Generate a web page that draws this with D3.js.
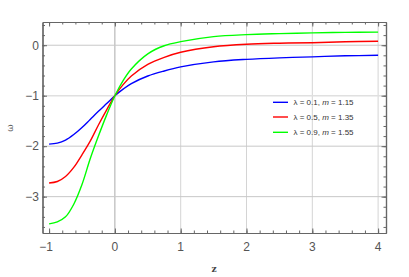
<!DOCTYPE html>
<html>
<head>
<meta charset="utf-8">
<script src="https://cdn.jsdelivr.net/npm/d3@7"></script>
<style>
  body { margin: 0; background: #fff; }
  svg { display: block; }
</style>
</head>
<body>
<svg id="chart" width="409" height="277"></svg>
<script>
// values
var zValues = [-1, -0.875, -0.75, -0.625, -0.5, -0.375, -0.25, -0.125, 0, 0.125, 0.25, 0.5, 0.75, 1, 1.5, 2, 2.5, 3, 3.5, 4];
var omegaBlue = [-1.96, -1.94, -1.88, -1.77, -1.63, -1.47, -1.31, -1.155, -1, -0.87, -0.76, -0.61, -0.51, -0.43, -0.33, -0.28, -0.25, -0.23, -0.21, -0.20];
var omegaRed = [-2.73, -2.70, -2.60, -2.42, -2.17, -1.90, -1.58, -1.28, -1, -0.78, -0.61, -0.38, -0.24, -0.14, -0.03, 0.02, 0.04, 0.05, 0.07, 0.08];
var omegaGreen = [-3.54, -3.50, -3.40, -3.15, -2.76, -2.25, -1.80, -1.38, -1, -0.70, -0.47, -0.17, -0.01, 0.07, 0.17, 0.21, 0.23, 0.245, 0.255, 0.26];
var seriesLambda = ["0.1", "0.5", "0.9"];
var seriesM = ["1.15", "1.35", "1.55"];
var seriesColors = ["#0000ff", "#ff0000", "#00ff00"];
var xTicks = [-1, 0, 1, 2, 3, 4];
var yTicks = [0, -1, -2, -3];

var svg = d3.select("#chart");
var plotLeft = 42.5, plotRight = 386, plotTop = 22, plotBottom = 233;

var x = d3.scaleLinear().domain([-1.1, 4.12]).range([plotLeft, plotRight]);
var y = d3.scaleLinear().domain([0.46, -3.72]).range([plotTop, plotBottom]);

var frameColor = "#666";
var labelColor = "#555";

// grid lines
var grid = svg.append("g");
grid.selectAll("line.gx")
    .data(xTicks.filter(function(d) { return d >= 0; }))
    .enter()
    .append("line")
    .attr("x1", function(d) { return x(d); })
    .attr("x2", function(d) { return x(d); })
    .attr("y1", plotTop)
    .attr("y2", plotBottom)
    .style("stroke", function(d) { return d === 0 ? "#aaa" : "#d4d4d4"; })
    .style("stroke-width", 1);
grid.selectAll("line.gy")
    .data(yTicks)
    .enter()
    .append("line")
    .attr("x1", plotLeft)
    .attr("x2", plotRight)
    .attr("y1", function(d) { return y(d); })
    .attr("y2", function(d) { return y(d); })
    .style("stroke", function(d) { return d === -1 ? "#e0e0e0" : "#c8c8c8"; })
    .style("stroke-width", function(d) { return d === -1 ? 1.6 : 1; });

// curves
var series = [omegaBlue, omegaRed, omegaGreen];
var line = d3.line()
    .x(function(d) { return x(d[0]); })
    .y(function(d) { return y(d[1]); })
    .curve(d3.curveCatmullRom.alpha(0.5));
svg.append("g").selectAll("path")
    .data(series)
    .enter()
    .append("path")
    .attr("d", function(s) { return line(zValues.map(function(z, i) { return [z, s[i]]; })); })
    .style("fill", "none")
    .style("stroke", function(s, i) { return seriesColors[i]; })
    .style("stroke-width", 1.4);

// frame with ticks on all sides, pointing inward
var xMinor = d3.range(-1, 4.01, 0.2).map(function(d) { return +d.toFixed(2); });
var yMinor = d3.range(-3.6, 0.41, 0.2).map(function(d) { return +d.toFixed(2); });

function drawAxis(gen, tx, ty) {
    var g = svg.append("g").attr("transform", "translate(" + tx + "," + ty + ")").call(gen);
    g.selectAll("path.domain").style("stroke", frameColor).style("stroke-width", 1.2);
    g.selectAll(".tick line").style("stroke", frameColor).style("stroke-width", 1);
    return g;
}

function ticks(axisFn, scale, vals, size) {
    return axisFn(scale).tickValues(vals).tickSize(size).tickSizeOuter(0).tickFormat("");
}

drawAxis(ticks(d3.axisTop, x, xMinor, 2.5), 0, plotBottom);
drawAxis(ticks(d3.axisBottom, x, xMinor, 2.5), 0, plotTop);
drawAxis(ticks(d3.axisRight, y, yMinor, 2.5), plotLeft, 0);
drawAxis(ticks(d3.axisLeft, y, yMinor, 2.5), plotRight, 0);
drawAxis(ticks(d3.axisTop, x, xTicks, 4.5), 0, plotBottom);
drawAxis(ticks(d3.axisBottom, x, xTicks, 4.5), 0, plotTop);
drawAxis(ticks(d3.axisRight, y, yTicks, 4.5), plotLeft, 0);
drawAxis(ticks(d3.axisLeft, y, yTicks, 4.5), plotRight, 0);

// tick labels
var fmt = function(d) { return d < 0 ? "\u2212" + Math.abs(d) : String(d); };
svg.append("g").selectAll("text")
    .data(xTicks)
    .enter()
    .append("text")
    .attr("x", function(d) { return x(d) + (d < 0 ? -3 : 0); })
    .attr("y", 250.5)
    .attr("text-anchor", "middle")
    .style("fill", labelColor)
    .style("font-family", "'Liberation Sans', Arial, sans-serif")
    .style("font-size", "12px")
    .text(fmt);
svg.append("g").selectAll("text")
    .data(yTicks)
    .enter()
    .append("text")
    .attr("x", 39)
    .attr("y", function(d) { return y(d) + 4.3; })
    .attr("text-anchor", "end")
    .style("fill", labelColor)
    .style("font-family", "'Liberation Sans', Arial, sans-serif")
    .style("font-size", "12px")
    .text(fmt);

// axis titles
svg.append("text")
    .attr("x", 214)
    .attr("y", 272)
    .attr("text-anchor", "middle")
    .style("fill", "#444")
    .style("font-family", "'DejaVu Serif', serif")
    .style("font-size", "9px")
    .style("font-weight", "bold")
    .text("z");
svg.append("text")
    .attr("transform", "translate(13,128) rotate(-90)")
    .attr("text-anchor", "middle")
    .style("fill", labelColor)
    .style("font-family", "'DejaVu Serif', serif")
    .style("font-size", "9px")
    .text("\u03c9");

// legend
var legend = svg.append("g");
var rows = legend.selectAll("g")
    .data(seriesColors)
    .enter()
    .append("g")
    .attr("transform", function(d, i) { return "translate(0," + [102.3, 117, 132.3][i] + ")"; });
rows.append("line")
    .attr("x1", 273)
    .attr("x2", 288)
    .attr("y1", 0)
    .attr("y2", 0)
    .style("stroke", function(d) { return d; })
    .style("stroke-width", 1.4);
var txt = rows.append("text")
    .attr("x", 293.5)
    .attr("y", 3)
    .style("fill", "#333")
    .style("font-family", "'Liberation Sans', Arial, sans-serif")
    .style("font-size", "8px");
txt.append("tspan").text(function(d, i) { return "\u03bb = " + seriesLambda[i] + ", "; });
txt.append("tspan").style("font-style", "italic").text("m");
txt.append("tspan").text(function(d, i) { return " = " + seriesM[i]; });
</script>
</body>
</html>
